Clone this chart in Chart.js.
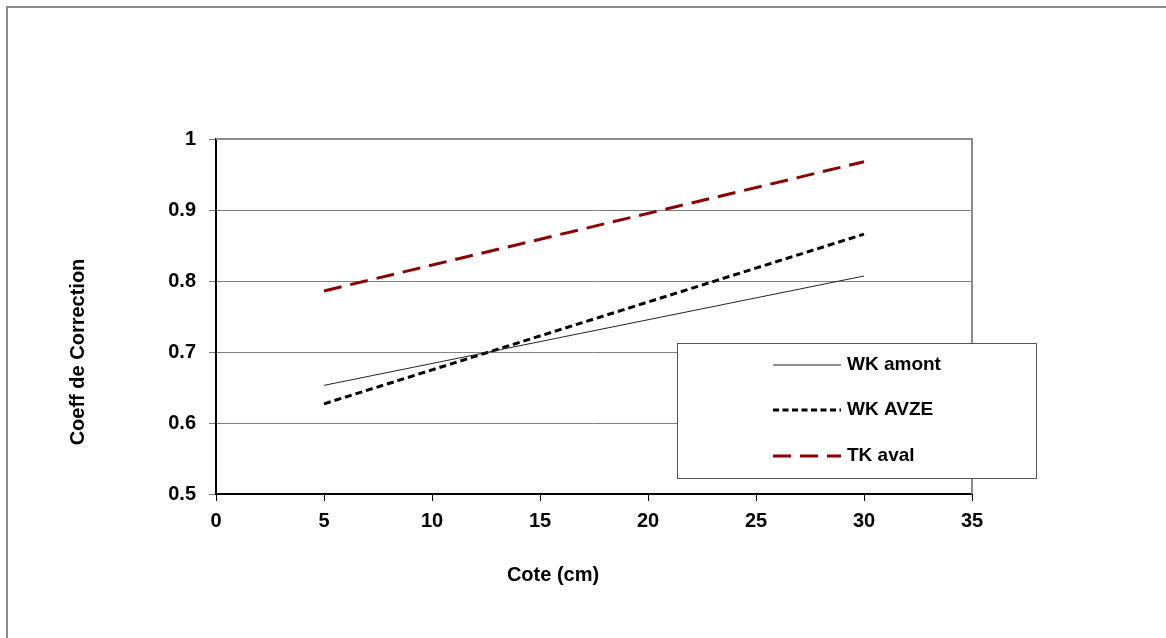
<!DOCTYPE html>
<html>
<head>
<meta charset="utf-8">
<script src="https://cdn.jsdelivr.net/npm/chart.js@4/dist/chart.umd.min.js"></script>
<style>
  html, body { margin: 0; padding: 0; background: #fff; overflow: hidden; }
  #frame { position: absolute; left: 6px; top: 6px; width: 1200px; height: 700px;
           border-top: 2px solid #8c8c8c; border-left: 2px solid #8c8c8c; }
  #wrap { position: absolute; left: 0; top: 0; width: 1166px; height: 638px; }
</style>
</head>
<body>
<div id="frame"></div>
<div id="wrap"><canvas id="chart" width="1166" height="638"></canvas></div>
<script>
// valeurs (cote en cm)
var cotes = [5, 30];
var wkAmont = [0.653, 0.807];
var wkAvze = [0.627, 0.866];
var tkAval = [0.786, 0.968];
var seriesNames = ['WK amont', 'WK AVZE', 'TK aval'];
var xTitle = 'Cote (cm)';
var yTitle = 'Coeff de Correction';

var FONT = 'Liberation Sans, Arial, sans-serif';

function pts(ys) {
    return cotes.map(function(x, i) { return { x: x, y: ys[i] }; });
}

var styles = [
    { color: '#222222', width: 1, dash: [] },
    { color: '#000000', width: 3, dash: [7, 4] },
    { color: '#8B0000', width: 3, dash: [18, 9] }
];

// cadre du graphique, titres des axes + legende encadree
var framePlugin = {
    id: 'framePlugin',
    afterDraw: function(chart) {
        var ctx = chart.ctx;
        var a = chart.chartArea;
        ctx.save();
        ctx.strokeStyle = '#8c8c8c';
        ctx.lineWidth = 2;
        ctx.beginPath();
        ctx.moveTo(a.left, a.top);
        ctx.lineTo(a.right, a.top);
        ctx.lineTo(a.right, a.bottom);
        ctx.stroke();

        // titres
        ctx.fillStyle = '#000';
        ctx.font = 'bold 20px ' + FONT;
        ctx.textAlign = 'center';
        ctx.textBaseline = 'middle';
        ctx.fillText(xTitle, 553, 575);
        ctx.save();
        ctx.translate(78, 352);
        ctx.rotate(-Math.PI / 2);
        ctx.fillText(yTitle, 0, 0);
        ctx.restore();

        // legende
        var bx = 677, by = 343, bw = 359, bh = 135;
        ctx.fillStyle = '#fff';
        ctx.fillRect(bx, by, bw, bh);
        ctx.strokeStyle = '#555';
        ctx.lineWidth = 1;
        ctx.strokeRect(bx + 0.5, by + 0.5, bw, bh);
        ctx.font = 'bold 19px ' + FONT;
        ctx.textAlign = 'left';
        ctx.textBaseline = 'middle';
        var rows = [365, 410, 456];
        chart.data.datasets.forEach(function(ds, i) {
            var y = rows[i];
            ctx.strokeStyle = ds.borderColor;
            ctx.lineWidth = ds.borderWidth;
            ctx.setLineDash(i === 1 ? [6, 3.5] : (ds.borderDash || []));
            ctx.beginPath();
            ctx.moveTo(773, y);
            ctx.lineTo(841, y);
            ctx.stroke();
            ctx.setLineDash([]);
            ctx.fillStyle = '#000';
            ctx.fillText(ds.label, 847, y);
        });
        ctx.restore();
    }
};

new Chart(document.getElementById('chart'), {
    type: 'line',
    data: {
        datasets: seriesNames.map(function(name, i) {
            var ys = [wkAmont, wkAvze, tkAval][i];
            return {
                label: name,
                data: pts(ys),
                borderColor: styles[i].color,
                borderWidth: styles[i].width,
                borderDash: styles[i].dash,
                pointRadius: 0,
                fill: false,
                tension: 0
            };
        })
    },
    options: {
        responsive: false,
        animation: false,
        layout: { padding: { left: 67, top: 139, right: 194, bottom: 51 } },
        plugins: { legend: { display: false }, tooltip: { enabled: false } },
        scales: {
            x: {
                type: 'linear',
                min: 0, max: 35,
                ticks: { stepSize: 5, color: '#000', font: { family: FONT, size: 20, weight: 'bold' }, padding: 8, maxRotation: 0 },
                grid: { drawOnChartArea: false, drawTicks: true, tickLength: 7, color: '#000' },
                border: { color: '#000', width: 2 },
                title: { display: false },
                afterFit: function(s) { s.height = 93; }
            },
            y: {
                min: 0.5, max: 1,
                ticks: { stepSize: 0.1, color: '#000', font: { family: FONT, size: 20, weight: 'bold' }, padding: 13,
                         callback: function(v) { return Math.round(v * 10) / 10; } },
                grid: { color: '#808080', lineWidth: 1, tickLength: 7 },
                border: { color: '#000', width: 2 },
                title: { display: false },
                afterFit: function(s) { s.width = 149; }
            }
        }
    },
    plugins: [framePlugin]
});
</script>
</body>
</html>
